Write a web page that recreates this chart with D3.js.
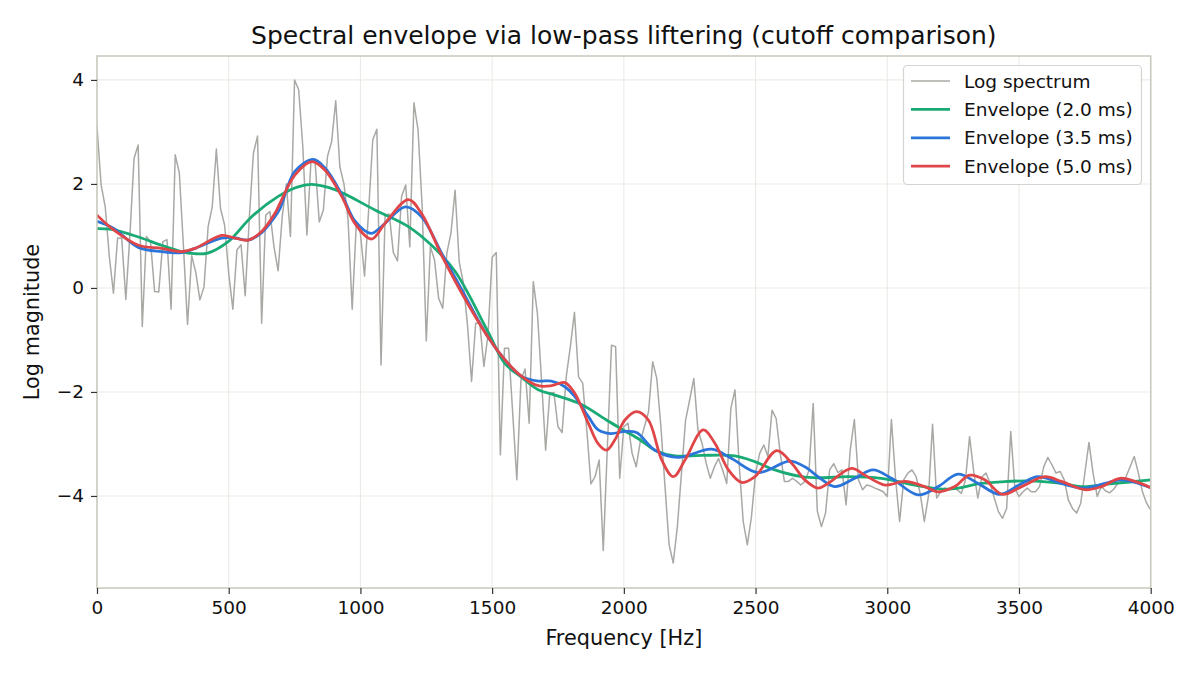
<!DOCTYPE html>
<html><head><meta charset="utf-8">
<script src="https://cdn.jsdelivr.net/npm/d3@7"></script>
<style>
html,body{margin:0;padding:0;background:#fff;}
svg{display:block;font-family:"DejaVu Sans",sans-serif;}
</style></head>
<body>
<svg id="chart" width="1200" height="675"></svg>
<script>
// ---- data ----
const binHz = 15.625; // spectrum bin spacing (0..4000 Hz, 257 bins)
const logSpectrum = [
 3.10,1.98,1.56,0.60,-0.10,0.96,0.96,-0.22,1.02,2.49,2.75,-0.74,0.99,0.89,-0.07,-0.08,0.89,0.93,-0.41,2.56,
 2.21,0.80,-0.70,0.62,0.30,-0.23,0.02,1.18,1.56,2.67,1.53,1.21,0.28,-0.41,0.73,0.83,-0.15,1.34,2.59,2.92,
 -0.68,1.40,1.47,0.79,0.33,1.37,2.00,0.99,4.00,3.81,2.72,1.02,2.46,2.40,1.27,1.50,2.53,2.81,3.60,2.33,
 2.00,1.31,-0.41,1.24,1.05,0.23,1.50,2.85,3.05,-1.48,1.40,1.42,0.68,0.52,1.76,1.98,0.79,3.56,3.04,1.56,
 -1.02,0.79,0.54,-0.20,-0.39,0.67,1.06,1.88,0.50,0.10,-0.70,-1.80,-0.68,-0.68,-1.51,-0.90,0.59,0.68,-3.21,-1.16,
 -1.16,-2.41,-3.69,-1.77,-1.56,-2.60,0.12,-0.49,-1.77,-3.12,-2.03,-2.01,-2.67,-2.78,-1.71,-1.13,-0.47,-1.71,-1.83,-2.73,
 -3.77,-3.63,-3.31,-5.05,-3.05,-1.10,-1.13,-3.66,-2.67,-2.60,-3.18,-3.44,-2.95,-2.67,-2.38,-1.42,-1.74,-2.67,-3.82,-4.94,
 -5.29,-4.59,-3.56,-2.54,-2.15,-1.74,-2.73,-2.99,-3.37,-3.66,-3.44,-3.28,-3.50,-3.76,-2.31,-1.96,-3.37,-4.49,-4.94,-4.40,
 -3.56,-3.18,-3.02,-3.24,-2.35,-2.51,-3.18,-3.72,-3.72,-3.66,-3.72,-3.79,-3.72,-3.50,-2.22,-4.29,-4.59,-4.33,-3.50,-3.38,
 -3.55,-3.50,-4.17,-3.12,-2.53,-3.69,-3.88,-3.79,-3.81,-3.85,-3.88,-3.92,-4.01,-2.53,-3.66,-4.49,-3.69,-3.56,-3.50,-3.63,
 -3.95,-4.49,-4.01,-2.62,-4.04,-3.92,-3.85,-3.88,-3.85,-3.88,-3.95,-3.69,-2.86,-3.53,-4.04,-3.63,-3.56,-3.76,-4.04,-4.30,
 -4.43,-4.24,-2.76,-3.85,-4.01,-3.92,-3.85,-3.92,-3.92,-3.82,-3.44,-3.26,-3.40,-3.56,-3.53,-3.69,-4.08,-4.24,-4.33,-4.14,
 -3.56,-2.97,-3.56,-4.01,-3.82,-3.90,-3.94,-3.87,-3.76,-3.72,-3.63,-3.44,-3.24,-3.56,-3.92,-4.14,-4.27
];

const env20Freq = [0,60,157,245,320,370,420,498,587,688,760,815,903,1055,1182,1270,1359,1485,1548,1612,1675,1738,1839,1940,2004,2061,2118,2194,2295,2421,2497,2573,2675,2745,2851,2977,3104,3231,3357,3430,3535,3661,3737,3864,4000];
const env20Vals = [1.14,1.12,0.98,0.82,0.70,0.66,0.67,0.89,1.37,1.76,1.94,1.99,1.89,1.50,1.18,0.82,0.32,-0.85,-1.45,-1.72,-1.96,-2.06,-2.24,-2.56,-2.75,-2.92,-3.12,-3.23,-3.22,-3.23,-3.34,-3.50,-3.63,-3.65,-3.63,-3.66,-3.79,-3.87,-3.76,-3.73,-3.71,-3.76,-3.82,-3.76,-3.69];

const env35Freq = [0,62,157,245,321,372,473,523,574,624,675,694,751,821,865,929,979,1040,1080,1170,1232,1308,1378,1485,1548,1612,1675,1725,1776,1814,1865,1903,1950,2004,2048,2118,2206,2333,2409,2510,2630,2687,2745,2801,2877,2946,3016,3117,3193,3269,3345,3427,3510,3572,3661,3744,3826,3890,4000];
const env35Vals = [1.28,1.15,0.78,0.70,0.68,0.76,0.96,0.96,0.92,1.06,1.37,1.52,2.24,2.47,2.31,1.80,1.29,1.05,1.18,1.56,1.37,0.67,0.03,-0.95,-1.38,-1.70,-1.79,-1.79,-1.90,-2.09,-2.47,-2.73,-2.80,-2.76,-2.78,-3.12,-3.26,-3.10,-3.28,-3.55,-3.33,-3.44,-3.66,-3.82,-3.66,-3.50,-3.66,-3.98,-3.82,-3.58,-3.76,-3.97,-3.76,-3.63,-3.76,-3.85,-3.76,-3.69,-3.84];

const env50Freq = [0,62,157,245,321,372,473,523,574,624,675,694,751,815,865,929,979,1042,1093,1182,1232,1308,1378,1485,1548,1612,1675,1725,1776,1814,1865,1903,1934,1966,2004,2048,2093,2144,2188,2232,2301,2346,2397,2447,2498,2580,2637,2687,2738,2775,2864,2915,2991,3067,3142,3193,3256,3313,3370,3437,3510,3598,3661,3750,3813,3883,3940,4000];
const env50Vals = [1.40,1.12,0.82,0.76,0.70,0.76,1.01,0.96,0.92,1.08,1.43,1.62,2.17,2.43,2.27,1.76,1.24,0.94,1.24,1.70,1.43,0.63,-0.04,-0.95,-1.38,-1.70,-1.88,-1.88,-1.82,-2.03,-2.60,-3.00,-3.12,-2.92,-2.54,-2.38,-2.54,-3.31,-3.63,-3.31,-2.73,-2.99,-3.50,-3.74,-3.63,-3.13,-3.37,-3.69,-3.85,-3.76,-3.47,-3.60,-3.79,-3.72,-3.82,-3.92,-3.82,-3.60,-3.69,-3.97,-3.82,-3.63,-3.72,-3.88,-3.82,-3.66,-3.72,-3.84];

const xTicks = [0,500,1000,1500,2000,2500,3000,3500,4000];
const yTicks = [-4,-2,0,2,4];
const seriesNames = ["Log spectrum","Envelope (2.0 ms)","Envelope (3.5 ms)","Envelope (5.0 ms)"];
const seriesColors = ["#a8a8a5","#1aaa74","#2a74da","#e04648"];

// ---- layout ----
const L = 97, R = 1150.7, T = 56, B = 588;
const svg = d3.select("#chart");
const x = d3.scaleLinear().domain([0,4000]).range([L,R]);
const y = d3.scaleLinear().domain([-5.77,4.46]).range([B,T]);

svg.append("defs").append("clipPath").attr("id","clip")
  .append("rect").attr("x",L).attr("y",T).attr("width",R-L).attr("height",B-T);

// grid
const grid = svg.append("g");
grid.selectAll(".gx").data(xTicks).enter().append("line")
  .attr("x1",d=>x(d)).attr("x2",d=>x(d)).attr("y1",T).attr("y2",B)
  .attr("stroke","#ebebe6").attr("stroke-width",1.1);
grid.selectAll(".gy").data(yTicks).enter().append("line")
  .attr("x1",L).attr("x2",R).attr("y1",d=>y(d)).attr("y2",d=>y(d))
  .attr("stroke","#ebebe6").attr("stroke-width",1.1);

// series
const plot = svg.append("g").attr("clip-path","url(#clip)");
const specPts = logSpectrum.map((v,i)=>[i*binHz, v]);
plot.append("path").datum(specPts)
  .attr("d", d3.line().x(d=>x(d[0])).y(d=>y(d[1])))
  .attr("fill","none").attr("stroke",seriesColors[0]).attr("stroke-width",1.5)
  .attr("stroke-linejoin","round");

const envs = [[env20Freq,env20Vals],[env35Freq,env35Vals],[env50Freq,env50Vals]];
const envLine = d3.line().x(d=>x(d[0])).y(d=>y(d[1])).curve(d3.curveCatmullRom.alpha(0.5));
envs.forEach((e,k)=>{
  const pts = e[0].map((f,i)=>[f, e[1][i]]);
  plot.append("path").datum(pts).attr("d", envLine)
    .attr("fill","none").attr("stroke",seriesColors[k+1]).attr("stroke-width",2.8)
    .attr("stroke-linejoin","round").attr("stroke-linecap","round");
});

// spines
svg.append("rect").attr("x",L).attr("y",T).attr("width",R-L).attr("height",B-T)
  .attr("fill","none").attr("stroke","#c8c8bd").attr("stroke-width",1.5);

// axes
const xAxis = svg.append("g").attr("transform",`translate(0,${B})`)
  .call(d3.axisBottom(x).tickValues(xTicks).tickSize(6).tickPadding(7).tickFormat(d3.format("d")));
const yAxis = svg.append("g").attr("transform",`translate(${L},0)`)
  .call(d3.axisLeft(y).tickValues(yTicks).tickSize(6).tickPadding(7).tickFormat(d=>d<0?"\u2212"+Math.abs(d):String(d)));
[xAxis,yAxis].forEach(a=>{
  a.select(".domain").remove();
  a.selectAll(".tick line").attr("stroke","#333").attr("stroke-width",1.2);
  a.selectAll(".tick text").attr("fill","#111").style("font-size","18.5px").style("font-family","DejaVu Sans");
});

// labels
svg.append("text").attr("x",(L+R)/2).attr("y",44).attr("text-anchor","middle")
  .style("font-size","25px").attr("fill","#111").text("Spectral envelope via low-pass liftering (cutoff comparison)");
svg.append("text").attr("x",(L+R)/2).attr("y",645).attr("text-anchor","middle")
  .style("font-size","20.8px").attr("fill","#111").text("Frequency [Hz]");
svg.append("text").attr("transform",`translate(39,${(T+B)/2}) rotate(-90)`).attr("text-anchor","middle")
  .style("font-size","20.8px").attr("fill","#111").text("Log magnitude");

// legend
const lg = svg.append("g");
lg.append("rect").attr("x",903.5).attr("y",65.5).attr("width",238).attr("height",119).attr("rx",4)
  .attr("fill","#fff").attr("fill-opacity",0.85).attr("stroke","#d4d4d0").attr("stroke-width",1.2);
seriesNames.forEach((n,i)=>{
  const yy = 81 + i*28.4;
  lg.append("line").attr("x1",911).attr("x2",950).attr("y1",yy).attr("y2",yy)
    .attr("stroke",seriesColors[i]).attr("stroke-width", i===0?1.5:2.8);
  lg.append("text").attr("x",964).attr("y",yy+6.5).style("font-size","18.5px").attr("fill","#111").text(n);
});
</script>
</body></html>
